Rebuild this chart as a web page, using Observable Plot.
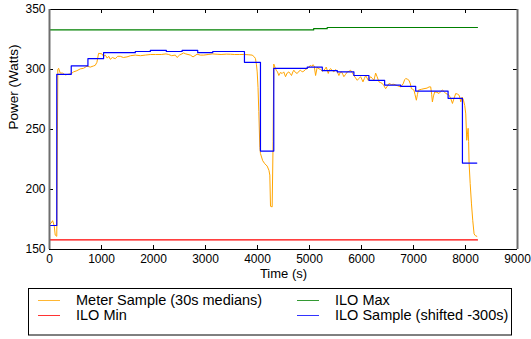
<!DOCTYPE html>
<html>
<head>
<meta charset="utf-8">
<script src="https://cdn.jsdelivr.net/npm/d3@7"></script>
<script src="https://cdn.jsdelivr.net/npm/@observablehq/plot@0.6"></script>
<style>
  body { margin: 0; background: #fff; }
  #chart { width: 531px; height: 339px; font-family: "Liberation Sans", Arial, sans-serif; }
  #chart svg { display: block; }
</style>
</head>
<body>
<div id="chart"></div>
<script>
// ---- Data ----
const seriesNames = ["Meter Sample (30s medians)", "ILO Min", "ILO Max", "ILO Sample (shifted -300s)"];
const seriesColors = ["#ffa500", "#ff0000", "#008000", "#0000ff"];

const meterTime = [0,30,60,90,110,140,160,175,206,250,302,360,418,462,527,591,655,720,784,850,880,912,944,1008,1040,1073,1110,1140,1169,1210,1265,1310,1361,1420,1490,1560,1650,1750,1843,1940,2036,2150,2240,2292,2350,2420,2453,2500,2580,2620,2709,2760,2838,2900,2966,3050,3130,3223,3300,3400,3480,3560,3650,3736,3820,3897,3940,3961,3980,3994,4010,4025,4045,4057,4100,4140,4186,4220,4237,4250,4282,4300,4313,4335,4360,4385,4410,4440,4475,4505,4539,4570,4603,4630,4654,4680,4699,4730,4764,4795,4828,4860,4891,4920,4957,4990,5020,5045,5065,5090,5117,5149,5180,5213,5245,5276,5300,5322,5361,5380,5405,5440,5469,5502,5530,5565,5590,5617,5640,5661,5695,5727,5760,5790,5820,5854,5885,5919,5950,5983,6005,6028,6055,6080,6105,6131,6155,6175,6210,6239,6272,6300,6336,6370,6401,6430,6464,6495,6528,6575,6624,6690,6753,6800,6830,6850,6880,6913,6940,6960,6985,7009,7030,7055,7075,7094,7150,7202,7260,7300,7331,7350,7363,7385,7408,7450,7491,7520,7556,7590,7620,7650,7683,7715,7749,7780,7812,7845,7876,7895,7909,7935,7961,7985,8005,8024,8038,8050,8060,8069,8090,8115,8140,8165,8190,8217];
const meterPower = [171,172,174,170,162,161,300,301,297,297,295.5,296,296.5,298,299,300.5,301,302.8,302,303,303.5,306,313.5,313,311,312,309.5,311,308.5,310,309,311,311,310,310.5,311.5,312,311.5,312,312.5,312.5,312.5,313,312.5,311.5,312,310,312,313.8,313,312,310.5,312.7,312,312,312.5,313,312.7,312.5,312.8,312.7,312.5,312.5,312.5,312.3,312,310.5,309,304,298,285,265,235,230,224,221.5,219.5,216,212,186,185.5,240,304.5,302,299.4,298,295,297.5,296.7,298,294,297,298,296.5,295,298,299.4,297.5,296.7,298.5,299.4,298,298.6,300,300.8,302,303.6,302.5,304,303,295,302,300.5,300.2,298.5,299.4,300.5,302,296.7,299.5,300.8,299,298,300,298.5,295,297.5,298,296,294,296,298,298.5,299.4,297.5,295,293,291,292.5,294,292,289.7,292.5,295,293,291,292.5,294,292.5,291,297,294,289.7,289,288.3,286.5,284,286,288.3,287.5,287.7,286.5,285.5,288,291.5,292.5,292,291,288,284,283.5,282.8,279,274.4,279,282.8,283.5,284,284.5,285.5,285.5,279,273,278,281.3,281,280,281.5,282.8,281.5,280,279.5,278.6,276,271.7,276,280,279.5,278.6,276,273,277,274.4,270,263,241,246,251,240,222,205,188,174,163,161.5,161];

const iloSampleTime = [0,140,418,739,1040,1650,1939,2247,2550,2850,3139,3749,4057,4313,4957,5246,5535,5854,6143,6445,6753,7042,7665,7941,8217];
const iloSamplePower = [170,296,303,309,314,315,316,315,316,314,315,306,232,301,302,299,298,295,291,287,286,282,276,222,222];

const iloMaxTime = [0,5080,5340,8230];
const iloMaxPower = [333,334,335,335];

const iloMinTime = [0,8230];
const iloMinPower = [158,158];

const xTicks = [0,1000,2000,3000,4000,5000,6000,7000,8000,9000];
const yTicks = [150,200,250,300,350];
const xLabel = "Time (s)";
const yLabel = "Power (Watts)";

// ---- Build tables ----
const toRows = (ts, vs) => ts.map((t, i) => ({t, v: vs[i]}));
const meter = toRows(meterTime, meterPower);
const iloSample = toRows(iloSampleTime, iloSamplePower);
const iloMax = toRows(iloMaxTime, iloMaxPower);
const iloMin = toRows(iloMinTime, iloMinPower);

const W = 531, H = 282;
const mL = 49, mR = 14, mT = 9, mB = 33;
const innerW = W - mL - mR, innerH = H - mT - mB;
const tk = 4;

const chart = Plot.plot({
  width: W, height: H,
  marginLeft: mL, marginRight: mR, marginTop: mT, marginBottom: mB,
  style: {fontFamily: "'Liberation Sans', Arial, sans-serif", fontSize: "12px", color: "#000", background: "#fff"},
  x: {domain: [0, 9000], ticks: xTicks, tickSize: 0, tickPadding: 5, tickFormat: d => String(d), label: null},
  y: {domain: [150, 350], ticks: yTicks, tickSize: 0, tickPadding: 4, tickFormat: d => String(d), label: null},
  marks: [
    Plot.line(meter, {x: "t", y: "v", stroke: seriesColors[0], strokeWidth: 1}),
    Plot.line(iloMin, {x: "t", y: "v", stroke: seriesColors[1], strokeWidth: 1.2}),
    Plot.line(iloMax, {x: "t", y: "v", stroke: seriesColors[2], strokeWidth: 1.2, curve: "step-after"}),
    Plot.line(iloSample, {x: "t", y: "v", stroke: seriesColors[3], strokeWidth: 1.2, curve: "step-after"}),
    // inward ticks
    Plot.ruleX(xTicks, {x: d => d, stroke: "#000", insetTop: innerH - tk}),
    Plot.ruleX(xTicks, {x: d => d, stroke: "#000", insetBottom: innerH - tk}),
    Plot.ruleY(yTicks, {y: d => d, stroke: "#000", insetRight: innerW - tk}),
    Plot.ruleY(yTicks, {y: d => d, stroke: "#000", insetLeft: innerW - tk}),
    // spines
    Plot.ruleY([150, 350], {y: d => d, stroke: "#000", strokeWidth: 1}),
    Plot.ruleX([0, 9000], {x: d => d, stroke: "#6e6e6e", strokeWidth: 2}),
    // axis labels
    Plot.text([xLabel], {frameAnchor: "bottom", dy: 28, text: d => d, fontSize: 13, fill: "#000"}),
    Plot.text([yLabel], {frameAnchor: "left", dx: -36, rotate: -90, text: d => d, fontSize: 13.5, fill: "#000"})
  ]
});
document.getElementById("chart").appendChild(chart);

// ---- Legend (below the plot SVG) ----
const LH = 339 - H;
const leg = d3.select("#chart").append("svg")
  .attr("width", W).attr("height", LH)
  .style("font-family", "'Liberation Sans', Arial, sans-serif");
leg.append("rect")
  .attr("x", 28.5).attr("y", 6.5).attr("width", 483).attr("height", 46.5)
  .attr("fill", "#fff").attr("stroke", "#000").attr("stroke-width", 1);
const legendPos = [
  {lx: 38, tx: 76, cy: 18},
  {lx: 38, tx: 76, cy: 33},
  {lx: 297, tx: 335, cy: 18},
  {lx: 297, tx: 335, cy: 33}
];
seriesNames.forEach((name, i) => {
  const p = legendPos[i];
  leg.append("line")
    .attr("x1", p.lx).attr("x2", p.lx + 22)
    .attr("y1", p.cy + 0.5).attr("y2", p.cy + 0.5)
    .attr("stroke", seriesColors[i]).attr("stroke-width", 1).attr("stroke-opacity", 0.8);
  leg.append("text")
    .attr("x", p.tx).attr("y", p.cy + 5.2)
    .attr("font-size", 14.5).attr("fill", "#000")
    .text(name);
});
</script>
</body>
</html>
